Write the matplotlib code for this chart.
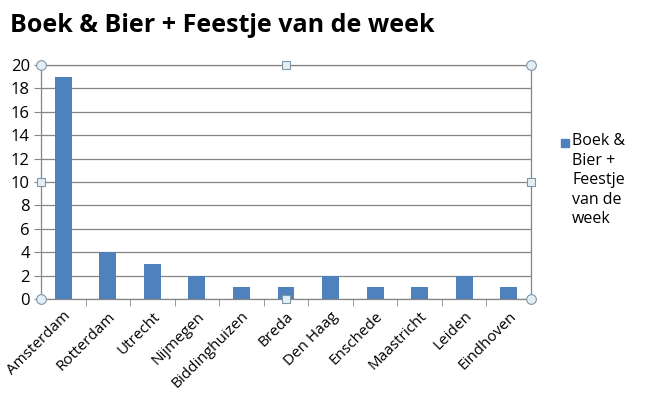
import matplotlib.pyplot as plt
from matplotlib.patches import Rectangle

cities = ['Amsterdam', 'Rotterdam', 'Utrecht', 'Nijmegen', 'Biddinghuizen', 'Breda',
          'Den Haag', 'Enschede', 'Maastricht', 'Leiden', 'Eindhoven']
counts = [19, 4, 3, 2, 1, 1, 2, 1, 1, 2, 1]
series_name = 'Boek &\nBier +\nFeestje\nvan de\nweek'
yticks = list(range(0, 21, 2))

plt.rcParams['font.family'] = ['Open Sans', 'DejaVu Sans']

fig = plt.figure(figsize=(6.45, 3.95), dpi=100)
ax = fig.add_axes([41 / 645, 1 - 299 / 395, 490 / 645, 234 / 395])

bar_color = '#4f81bd'
grid_color = '#868686'
ax.bar(range(len(cities)), counts, width=0.38, color=bar_color, zorder=3)

ax.set_xlim(-0.5, len(cities) - 0.5)
ax.set_ylim(0, 20)
ax.set_yticks(yticks)
ax.set_yticklabels([str(v) for v in yticks], fontsize=12)
ax.yaxis.grid(True, color=grid_color, linewidth=0.9, zorder=0)
ax.tick_params(axis='y', length=5, color=grid_color, pad=3)

# category labels centred under bars, ticks between categories
ax.set_xticks(range(len(cities)))
ax.set_xticklabels(cities, rotation=45, ha='right', rotation_mode='anchor', fontsize=11)
ax.tick_params(axis='x', length=0, pad=7)
ax.set_xticks([i + 0.5 for i in range(len(cities) - 1)], minor=True)
ax.tick_params(axis='x', which='minor', length=5, color=grid_color)

for s in ax.spines.values():
    s.set_color(grid_color)
    s.set_linewidth(0.9)

# selection handles around the plot area
hk = dict(transform=ax.transAxes, clip_on=False, zorder=5, markeredgecolor='#7f96a8',
          markerfacecolor='#e4eef5', markeredgewidth=0.8, linestyle='none')
ax.plot([0, 1, 0, 1], [0, 0, 1, 1], marker='o', markersize=7, **hk)
ax.plot([0.5, 0, 1, 0.5], [1, 0.5, 0.5, 0], marker='s', markersize=5.5, **hk)

fig.text(10 / 645, 1 - 25 / 395, 'Boek & Bier + Feestje van de week', fontsize=18,
         fontweight='bold', va='center', ha='left')

# legend: square key aligned with first text line
fig.patches.append(Rectangle((561 / 645, 1 - 147 / 395), 8 / 645, 8 / 395,
                             transform=fig.transFigure, color=bar_color, figure=fig))
fig.text(572 / 645, 1 - 133 / 395, series_name, fontsize=11.5, va='top', ha='left',
         linespacing=1.3)

fig.savefig('out.png', dpi=100)
